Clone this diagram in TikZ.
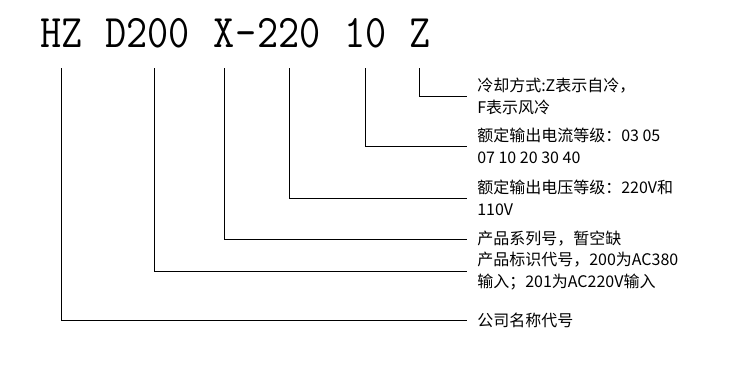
\documentclass[tikz,border=0pt]{standalone}
\usepackage{fontspec}
\usepackage{graphicx}
\newfontfamily\cjk{Noto Sans CJK SC}
\newcommand{\squeeze}[1]{\scalebox{0.88}[1]{#1}}
\tikzset{
  code/.style={inner sep=0pt, text depth=0pt, anchor=base west,
    font=\ttfamily\fontsize{35}{40}\selectfont},
  desc/.style={anchor=west, inner xsep=7.5pt, inner ysep=0pt, align=left,
    font=\cjk\fontsize{12}{16.5}\selectfont},
  lead/.style={line width=0.6pt}
}
\begin{document}
\begin{tikzpicture}[x=0.75pt, y=-0.75pt]
    \useasboundingbox (0,0) rectangle (729,366);
    % Typcode
    \node[code] (cHZ) at (40,48) {\squeeze{HZ}};
    \node[code] (cD) at (105,48) {\squeeze{D200}};
    \node[code] (cX) at (213.6,48) {\squeeze{X}};
    \node[code] (cDash) at (235.3,48) {\squeeze{-}};
    \node[code] (cV) at (257,48) {\squeeze{220}};
    \node[code] (cI) at (343.8,48) {\squeeze{10}};
    \node[code] (cZ) at (408.9,48) {\squeeze{Z}};

    % Erklaerungen
    \node[desc] (dZ) at (467,96) {冷却方式:Z表示自冷，\\F表示风冷};
    \node[desc] (dI) at (467,146) {额定输出电流等级：03 05\\07 10 20 30 40};
    \node[desc] (dV) at (467,198) {额定输出电压等级：220V和\\110V};
    \node[desc] (dX) at (467,239) {产品系列号，暂空缺};
    \node[desc] (dD) at (467,271) {产品标识代号，200为AC380\\输入；201为AC220V输入};
    \node[desc] (dHZ) at (467,320) {公司名称代号};

    % Fuehrungslinien
    \draw[lead] ([yshift=-15pt]cZ.south) |- (dZ.west);
    \draw[lead] ([yshift=-15pt]cI.south) |- (dI.west);
    \draw[lead] ([yshift=-15pt]cV.south) |- (dV.west);
    \draw[lead] ([yshift=-15pt]cX.south) |- (dX.west);
    \draw[lead] ([xshift=5pt,yshift=-15pt]cD.south) |- (dD.west);
    \draw[lead] ([yshift=-15pt]cHZ.south) |- (dHZ.west);
\end{tikzpicture}
\end{document}
